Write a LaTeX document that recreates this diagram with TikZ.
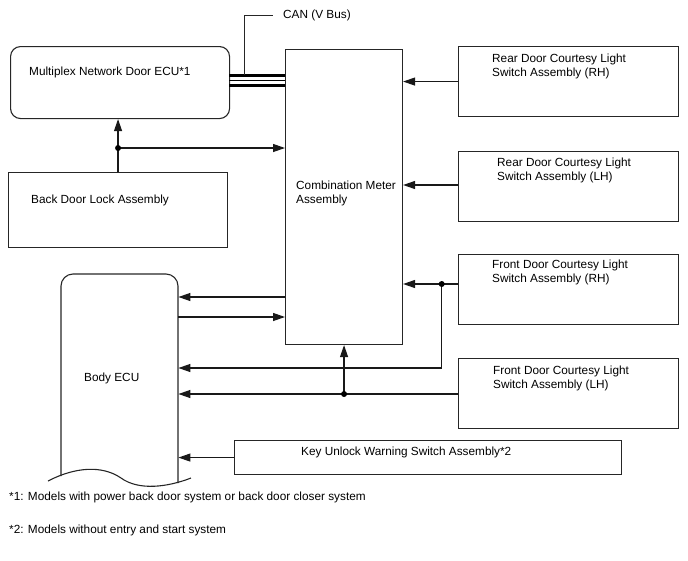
\documentclass[tikz,border=0pt]{standalone}
\usepackage{fontspec}
\setmainfont{Liberation Sans}
\usetikzlibrary{arrows.meta}
\begin{document}
\begin{tikzpicture}[x=1pt,y=-1pt,
  every node/.style={font=\fontsize{11.8}{14}\selectfont},
  box/.style={draw=black!85, line width=1.1pt, inner sep=0pt, anchor=north west},
  lbl/.style={anchor=west, align=left, inner sep=0pt},
  arr/.style={line width=1.2pt, draw=black!90, -{Triangle[length=12pt,width=8pt]}},
  wire/.style={line width=1.1pt, draw=black!85},
  dot/.style={circle, fill=black, inner sep=0pt, minimum size=6pt}]
\useasboundingbox (0,0) rectangle (688,560);

% boxes
\node[box, rounded corners=10pt, minimum width=219pt, minimum height=72pt] (mnd) at (10,46) {};
\node[box, minimum width=219pt, minimum height=75pt] (bdl) at (8,172) {};
\node[box, minimum width=117pt, minimum height=295pt] (cm) at (285,49) {};
\node[box, minimum width=220pt, minimum height=70pt] (rrh) at (458,46) {};
\node[box, minimum width=220pt, minimum height=70pt] (rlh) at (458,151) {};
\node[box, minimum width=220pt, minimum height=70pt] (frh) at (458,254) {};
\node[box, minimum width=220pt, minimum height=70pt] (flh) at (458,358) {};
\node[box, minimum width=387pt, minimum height=34pt] (key) at (234,440) {};
\node[inner sep=0pt, minimum width=117pt, minimum height=209pt, anchor=north west] (becu) at (61,274) {};

% Body ECU outline
\draw[wire, rounded corners=12pt] (61,476) -- (61,274) -- (178,274) -- (178,483);
\draw[wire] (48,481) .. controls (75,467) and (102,465) .. (121,478)
  .. controls (139,491) and (168,487) .. (191,478);

% texts
\node[lbl] (tmnd) at (29,72) {Multiplex Network Door ECU*1};
\node[lbl] (tbdl) at (31,200) {Back Door Lock Assembly};
\node[lbl] (tcm) at (296,193) {Combination Meter\\Assembly};
\node[lbl] (trrh) at (492,66) {Rear Door Courtesy Light\\Switch Assembly (RH)};
\node[lbl] (trlh) at (497,170) {Rear Door Courtesy Light\\Switch Assembly (LH)};
\node[lbl] (tfrh) at (492,272) {Front Door Courtesy Light\\Switch Assembly (RH)};
\node[lbl] (tflh) at (493,378) {Front Door Courtesy Light\\Switch Assembly (LH)};
\node[lbl] (tbecu) at (84,378) {Body ECU};
\node[lbl] (tkey) at (301,452) {Key Unlock Warning Switch Assembly*2};
\node[lbl] (fn1) at (9,497) {*1: Models with power back door system or back door closer system};
\node[lbl] (fn2) at (9,530) {*2: Models without entry and start system};
\node[lbl] (can) at (283,15) {CAN (V Bus)};

% CAN bus
\coordinate (c1) at (229,75.5);
\coordinate (c2) at (229,80.5);
\coordinate (c3) at (229,85.5);
\draw[line width=3pt] (c1) -- (cm.west |- c1);
\draw[line width=1.2pt] (c2) -- (cm.west |- c2);
\draw[line width=3pt] (c3) -- (cm.west |- c3);
\coordinate (cantap) at (244,75);
\draw[wire, line width=0.9pt] (cantap) |- ([xshift=-10pt]can.west);

% back door lock
\coordinate (j0) at (bdl.north |- 0,148);
\draw[arr] (bdl.north) -- (bdl.north |- mnd.south);
\draw[arr] (j0) -- (cm.west |- j0);
\node[dot] at (j0) {};

% rear switches
\draw[arr] (rrh.west) -- (cm.east |- rrh.west);
\draw[arr] (rlh.west |- 0,185) -- (cm.east |- 0,185);

% front RH
\coordinate (j1) at (441.7,284);
\coordinate (j2) at (441.7,368);
\draw[arr] (frh.west |- j1) -- (cm.east |- j1);
\draw[arr] (j1) -- (j2) -- (becu.east |- j2);
\node[dot] at (j1) {};

% front LH
\coordinate (j3) at (cm.south |- 0,394);
\draw[arr] (flh.west |- j3) -- (becu.east |- j3);
\draw[arr] (j3) -- (cm.south);
\node[dot] at (j3) {};

% body ECU <-> comb meter
\draw[arr] (cm.west |- 0,297) -- (becu.east |- 0,297);
\draw[arr] (becu.east |- 0,317) -- (cm.west |- 0,317);

% key unlock
\draw[arr] (key.west) -- (becu.east |- key.west);
\end{tikzpicture}
\end{document}
